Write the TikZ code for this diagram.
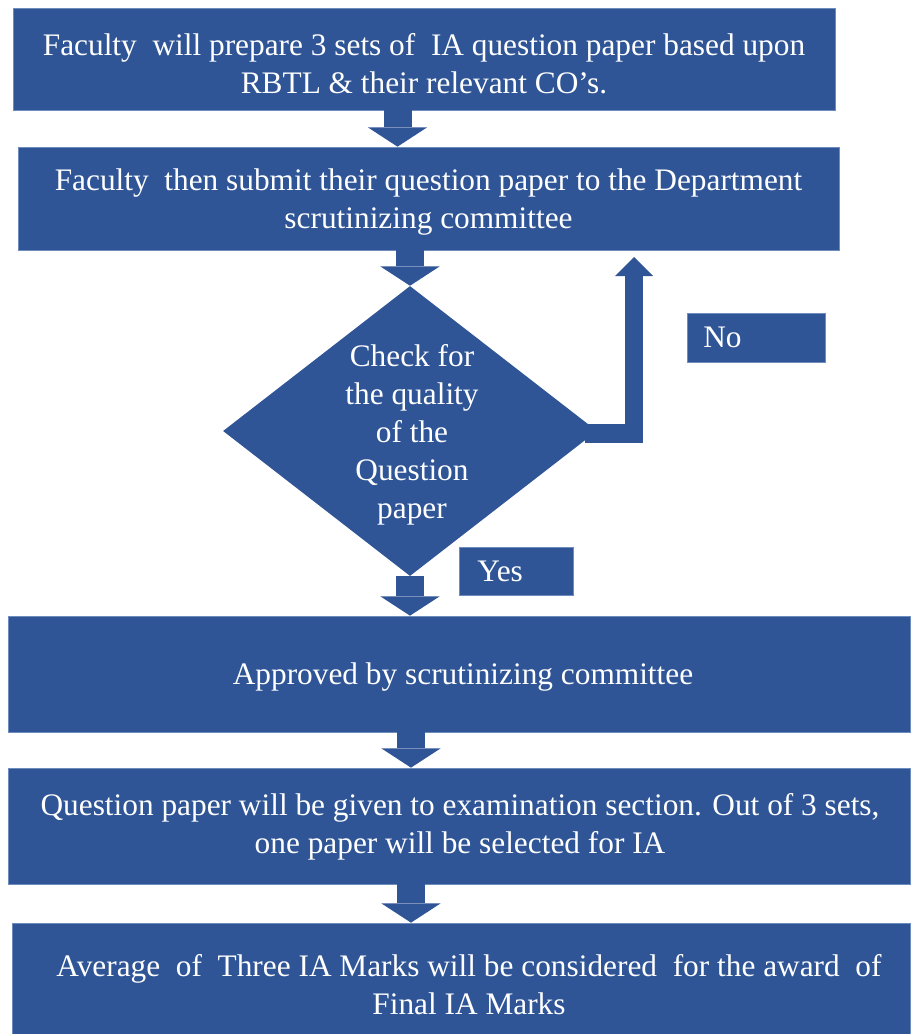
\documentclass[tikz,border=0pt]{standalone}
\usepackage{fontspec}
\setmainfont{Liberation Serif}
\usetikzlibrary{arrows.meta,shapes.geometric}
\definecolor{flowblue}{RGB}{47,85,151}
\definecolor{flowedge}{RGB}{110,140,190}
\tikzset{
  box/.style={rectangle, fill=flowblue, draw=flowedge, line width=0.5pt, inner sep=0pt},
  txt/.style={text=white, font=\fontsize{23.5}{28.6}\selectfont, align=center, inner sep=0pt},
  barrow/.style={draw=flowblue, line width=21pt, line cap=butt,
    -{Triangle[width=44.5pt,length=14.5pt,line width=0pt]}},
  noarrow/.style={draw=flowblue, line width=13.9pt, line cap=butt, line join=miter,
    -{Triangle[width=28.5pt,length=14.25pt,line width=0pt]}}
}
\begin{document}
\begin{tikzpicture}[x=0.75pt,y=-0.75pt]
\useasboundingbox (0,0) rectangle (910,1034);
% boxes
\node[box, minimum width=616.5pt, minimum height=76.5pt] (b1) at (424,59) {};
\node[box, minimum width=615.75pt, minimum height=77.25pt] (b2) at (428.5,198.5) {};
\node[diamond, fill=flowblue, inner sep=0pt, minimum width=280.5pt, minimum height=217.5pt] (d) at (410,431) {};
\node[box, minimum width=103.5pt, minimum height=36.75pt] (no) at (756,337.5) {};
\node[box, minimum width=85.5pt, minimum height=36pt] (yes) at (516,571) {};
\node[box, minimum width=676.5pt, minimum height=87pt] (b3) at (459,674) {};
\node[box, minimum width=676.5pt, minimum height=87pt] (b4) at (459,826) {};
\node[box, minimum width=673.5pt, minimum height=83.25pt] (b5) at (461,978.5) {};
% texts
\node[txt] (t1) at (424,64) {Faculty\ \ will prepare 3 sets of\ \ IA question paper based upon\\RBTL \& their relevant CO’s.};
\node[txt] (t2) at (428.5,202) {Faculty\ \ then submit their question paper to the Department\\scrutinizing committee};
\node[txt] (td) at (412,435) {Check for\\the quality\\of the\\Question\\paper};
\node[txt, anchor=base west] (tno) at (703,347) {No};
\node[txt, anchor=base west] (tyes) at (477,581) {Yes};
\node[txt] (t3) at (463,677) {Approved by scrutinizing committee};
\node[txt] (t4) at (460,827) {Question paper will be given to examination section. Out of 3 sets,\\one paper will be selected for IA};
\node[txt] (t5) at (469,985) {Average\ \ of\ \ Three IA Marks will be considered\ \ for the award\ \ of\\Final IA Marks};
% block arrows
\draw[barrow] (397.5,0 |- b1.south) -- (397.5,0 |- b2.north);
\draw[barrow] (410,0 |- b2.south) -- (d.north);
\draw[barrow] (d.south) -- (410,0 |- b3.north);
\draw[barrow] (411,0 |- b3.south) -- (411,0 |- b4.north);
\draw[barrow] (411,0 |- b4.south) -- (411,0 |- b5.north);
\coordinate (nc) at (634,433.5);
\coordinate (nt) at (634,257);
\draw[noarrow] (585,433.5) -- (nc) -- (nt);
\end{tikzpicture}
\end{document}
